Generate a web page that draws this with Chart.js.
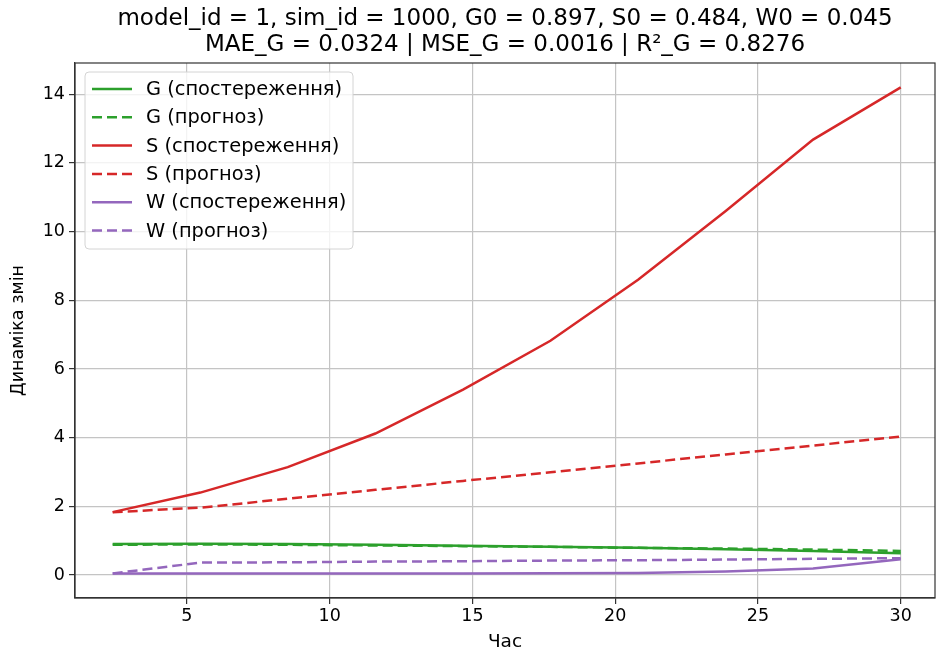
<!DOCTYPE html>
<html>
<head>
<meta charset="utf-8">
<script src="https://cdn.jsdelivr.net/npm/chart.js@4.4.0/dist/chart.umd.min.js"></script>
<style>
  html, body { margin: 0; padding: 0; background: #fff; }
  #wrap { width: 937px; height: 657px; }
</style>
</head>
<body>
<div id="wrap"><canvas id="chart"></canvas></div>
<script>
// time points
const times = [2.4, 5.47, 8.53, 11.6, 14.67, 17.73, 20.8, 23.87, 26.93, 30];

const gObs = [0.9, 0.91, 0.9, 0.88, 0.85, 0.82, 0.79, 0.75, 0.7, 0.63];
const gPred = [0.88, 0.89, 0.88, 0.86, 0.84, 0.82, 0.79, 0.77, 0.74, 0.7];
const sObs = [1.83, 2.4, 3.14, 4.12, 5.4, 6.82, 8.6, 10.6, 12.68, 14.2];
const sPred = [1.83, 1.96, 2.22, 2.48, 2.74, 2.99, 3.25, 3.51, 3.77, 4.03];
const wObs = [0.045, 0.04, 0.04, 0.04, 0.04, 0.05, 0.06, 0.1, 0.19, 0.46];
const wPred = [0.045, 0.36, 0.37, 0.39, 0.4, 0.42, 0.43, 0.45, 0.47, 0.49];

const xTicks = [5, 10, 15, 20, 25, 30];
const yTicks = [0, 2, 4, 6, 8, 10, 12, 14];

const titleLines = [
    'model_id = 1, sim_id = 1000, G0 = 0.897, S0 = 0.484, W0 = 0.045',
    'MAE_G = 0.0324 | MSE_G = 0.0016 | R²_G = 0.8276'
];

const GREEN = '#2ca02c', RED = '#d62728', PURPLE = '#9467bd';
const FONT = "'DejaVu Sans', sans-serif";

function pts(vals) {
    return times.map((t, i) => ({ x: t, y: vals[i] }));
}

function ds(label, vals, color, dashed) {
    return {
        label: label,
        data: pts(vals),
        borderColor: color,
        backgroundColor: color,
        borderWidth: 2.5,
        borderDash: dashed ? [10, 5] : [],
        pointRadius: 0,
        tension: 0,
        fill: false
    };
}

// title, frame and matplotlib-like legend
const extras = {
    id: 'extras',
    afterDraw(chart) {
        const ctx = chart.ctx;
        const a = chart.chartArea;
        ctx.save();
        ctx.strokeStyle = '#333';
        ctx.lineWidth = 1.2;
        ctx.strokeRect(a.left, a.top, a.right - a.left, a.bottom - a.top);

        ctx.fillStyle = '#000';
        ctx.font = '23px ' + FONT;
        ctx.textAlign = 'center';
        ctx.textBaseline = 'middle';
        const cx = (a.left + a.right) / 2;
        ctx.fillText(titleLines[0], cx, 19);
        ctx.fillText(titleLines[1], cx, 45);

        // legend
        const lx = a.left + 10, ly = a.top + 9;
        const lw = 268, rowH = 28.3;
        const items = chart.data.datasets;
        const lh = 177;
        ctx.fillStyle = 'rgba(255,255,255,0.8)';
        ctx.strokeStyle = '#d4d4d4';
        ctx.lineWidth = 1;
        ctx.beginPath();
        ctx.roundRect(lx, ly, lw, lh, 4);
        ctx.fill();
        ctx.stroke();
        ctx.font = '19.4px ' + FONT;
        ctx.textAlign = 'left';
        items.forEach((d, i) => {
            const y = ly + 17 + i * rowH;
            ctx.strokeStyle = d.borderColor;
            ctx.lineWidth = 2.5;
            ctx.setLineDash(d.borderDash);
            ctx.beginPath();
            ctx.moveTo(lx + 7, y);
            ctx.lineTo(lx + 47, y);
            ctx.stroke();
            ctx.setLineDash([]);
            ctx.fillStyle = '#000';
            ctx.fillText(d.label, lx + 61, y + 1);
        });
        ctx.restore();
    }
};

new Chart(document.getElementById('chart'), {
    type: 'line',
    data: {
        datasets: [
            ds('G (спостереження)', gObs, GREEN, false),
            ds('G (прогноз)', gPred, GREEN, true),
            ds('S (спостереження)', sObs, RED, false),
            ds('S (прогноз)', sPred, RED, true),
            ds('W (спостереження)', wObs, PURPLE, false),
            ds('W (прогноз)', wPred, PURPLE, true)
        ]
    },
    options: {
        responsive: true,
        maintainAspectRatio: false,
        animation: false,
        layout: { padding: { top: 63, right: 2, left: 0, bottom: 0 } },
        plugins: {
            legend: { display: false },
            title: { display: false },
            tooltip: { enabled: false }
        },
        scales: {
            x: {
                type: 'linear',
                min: 1.08,
                max: 31.2,
                afterBuildTicks: s => { s.ticks = xTicks.map(v => ({ value: v })); },
                afterFit: s => { s.height = 59; },
                ticks: { color: '#000', font: { size: 17.5, family: FONT }, padding: 2, maxRotation: 0 },
                grid: { color: '#c4c4c4', lineWidth: 1.2, tickColor: '#333', tickLength: 6 },
                border: { color: '#333', width: 1.2 },
                title: { display: true, text: 'Час', color: '#000', font: { size: 18.5, family: FONT }, padding: { top: 4 } }
            },
            y: {
                min: -0.67,
                max: 14.91,
                afterBuildTicks: s => { s.ticks = yTicks.map(v => ({ value: v })); },
                afterFit: s => { s.width = 75; },
                ticks: { color: '#000', font: { size: 17.5, family: FONT }, padding: 4 },
                grid: { color: '#c4c4c4', lineWidth: 1.2, tickColor: '#333', tickLength: 6 },
                border: { color: '#333', width: 1.2 },
                title: { display: true, text: 'Динаміка змін', color: '#000', font: { size: 17.5, family: FONT }, padding: { top: 8, bottom: 0 } }
            }
        }
    },
    plugins: [extras]
});
</script>
</body>
</html>
